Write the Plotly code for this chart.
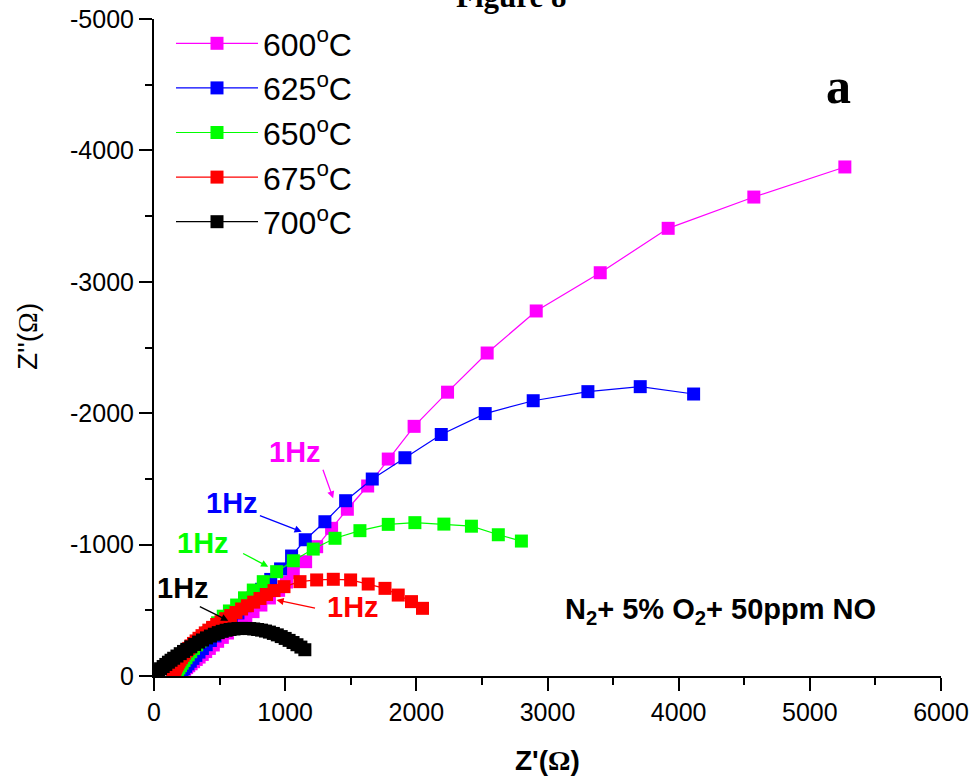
import plotly.graph_objects as go

# Impedance spectra (Nyquist) of the sensor at five temperatures.
# Z' = real part (ohm), Z'' = imaginary part (ohm, negative values).
temps = ["600<sup>o</sup>C", "625<sup>o</sup>C", "650<sup>o</sup>C", "675<sup>o</sup>C", "700<sup>o</sup>C"]
colors = ["#FF00FF", "#0000FF", "#00FF00", "#FF0000", "#000000"]

zre_600 = [185, 195, 207, 220, 234, 249, 265, 283, 302, 322, 344, 368, 394, 422, 452, 485, 521, 560,
           603, 650, 700, 755, 815, 880, 950, 1010, 1062, 1156, 1240, 1354, 1474, 1629, 1786, 1983,
           2238, 2540, 2914, 3402, 3920, 4573, 5267]
zim_600 = [-3, -14, -26, -38, -51, -64, -78, -93, -109, -126, -144, -164, -186, -210, -236, -264, -294, -327,
           -363, -402, -444, -490, -540, -594, -652, -715, -786, -870, -984, -1124, -1269, -1446, -1651, -1900,
           -2160, -2458, -2778, -3069, -3407, -3645, -3874]

zre_625 = [177, 188, 200, 213, 227, 242, 259, 277, 297, 319, 343, 369, 398, 430, 465, 503, 545, 590,
           640, 695, 755, 820, 890, 965, 1049, 1153, 1303, 1461, 1664, 1913, 2190, 2525, 2891, 3308,
           3707, 4114]
zim_625 = [-1, -12, -25, -40, -56, -73, -92, -112, -134, -157, -182, -209, -238, -270, -305, -343, -385, -430,
           -480, -535, -595, -660, -735, -815, -913, -1037, -1174, -1334, -1499, -1661, -1838, -1997, -2095, -2164,
           -2202, -2146]

zre_650 = [152, 160, 169, 179, 190, 202, 215, 229, 244, 261, 280, 301, 325, 351, 380, 412, 447, 485,
           528, 575, 630, 690, 757, 833, 935, 1062, 1214, 1380, 1570, 1786, 1989, 2210, 2420, 2625, 2801]
zim_650 = [-1, -13, -28, -44, -61, -79, -98, -118, -139, -161, -185, -210, -237, -266, -297, -330, -365, -405,
           -455, -495, -540, -595, -654, -718, -794, -877, -966, -1048, -1106, -1154, -1167, -1156, -1140, -1075, -1027]

zre_675 = [143, 147, 152, 158, 164, 171, 179, 188, 198, 209, 221, 234, 249, 265, 282, 301, 321, 343,
           366, 391, 418, 447, 478, 511, 547, 585, 625, 668, 712, 760, 808, 858, 915, 991, 1113, 1240,
           1367, 1499, 1633, 1761, 1862, 1963, 2047]
zim_675 = [-8, -20, -33, -47, -61, -76, -91, -107, -123, -140, -157, -174, -192, -210, -229, -248, -267, -287,
           -307, -328, -349, -370, -392, -413, -436, -460, -483, -510, -535, -562, -590, -620, -650, -680, -718, -731,
           -736, -731, -700, -667, -616, -566, -515]

zre_700 = [15, 35, 50, 70, 90, 110, 130, 150, 175, 200, 225, 250, 280, 310, 340, 370, 400, 430, 460, 490,
           520, 550, 580, 610, 640, 670, 700, 730, 760, 790, 820, 850, 880, 910, 940, 970, 1000, 1030, 1060,
           1090, 1120, 1150]
zim_700 = [-20, -40, -55, -72, -88, -105, -120, -135, -152, -170, -187, -203, -222, -240, -258, -274, -290, -304,
           -318, -330, -340, -348, -354, -358, -361, -362, -362, -361, -358, -354, -349, -342, -334, -324, -313,
           -300, -286, -271, -255, -238, -220, -200]

zre_series = [zre_600, zre_625, zre_650, zre_675, zre_700]
zim_series = [zim_600, zim_625, zim_650, zim_675, zim_700]

x_ticks = [0, 1000, 2000, 3000, 4000, 5000, 6000]
y_ticks = [0, -1000, -2000, -3000, -4000, -5000]
y_tick_text = ["0", "-1000", "-2000", "-3000", "-4000", "-5000"]

# 1 Hz markers: (label x, label y, arrow tail x, tail y, arrow tip x, tip y, colour)
hz_labels = [
    (1075, -1707, 1284, -1581, 1366, -1352, "#FF00FF"),
    (592, -1314, 796, -1225, 1126, -1098, "#0000FF"),
    (376, -1010, 668, -938, 871, -832, "#00FF00"),
    (223, -667, 338, -533, 566, -421, "#000000"),
    (1519, -527, 1239, -515, 934, -578, "#FF0000"),
]

SANS = "Liberation Sans, Arial, sans-serif"
SERIF = "Liberation Serif, Times New Roman, serif"

# plot box in pixels: left 154, right 941, top 19, bottom 676
L, R, T, B = 154, 941, 19, 676
W, H = R - L, B - T


def px(xp):
    return (xp - L) / W


def py(yp):
    return (B - yp) / H


fig = go.Figure()
for name, xs, ys, c in zip(temps, zre_series, zim_series, colors):
    fig.add_trace(go.Scatter(
        x=xs, y=ys, mode="lines+markers", name=name,
        line=dict(color=c, width=1.2),
        marker=dict(symbol="square", size=13, color=c, line=dict(width=0)),
    ))

axis_common = dict(showline=True, linecolor="black", linewidth=2, showgrid=False, zeroline=False,
                   mirror=False, ticks="outside", ticklen=13, tickwidth=2, tickcolor="black",
                   automargin=False,
                   tickfont=dict(family=SANS, size=25, color="black"))
frame_common = dict(ticks="inside", ticklen=4, tickwidth=1.5, tickcolor="black", showticklabels=False,
                    showline=True, linecolor="black", linewidth=2, showgrid=False, zeroline=False,
                    automargin=False)

fig.update_layout(
    width=974, height=780,
    margin=dict(l=L, r=974 - R, t=T, b=780 - B, autoexpand=False),
    plot_bgcolor="white", paper_bgcolor="white",
    showlegend=True,
    legend=dict(x=px(171), y=py(16), xanchor="left", yanchor="top", bgcolor="rgba(0,0,0,0)",
                font=dict(family=SANS, size=32, color="black"), itemwidth=82,
                tracegroupgap=0),
    xaxis=dict(range=[0, 6000], tickvals=x_ticks,
               minor=dict(ticks="outside", ticklen=7, tickwidth=2, tickcolor="black", dtick=500, tick0=0),
               **axis_common),
    yaxis=dict(range=[0, -5000], tickvals=y_ticks, ticktext=y_tick_text,
               minor=dict(ticks="outside", ticklen=7, tickwidth=2, tickcolor="black", dtick=500, tick0=0),
               **axis_common),
    xaxis2=dict(overlaying="x", side="top", range=[0, 6000], tick0=0, dtick=600, **frame_common),
    yaxis2=dict(overlaying="y", side="right", range=[0, -5000], tick0=0, dtick=500, **frame_common),
)

annotations = []
for lx, ly, tx, ty, hx, hy, c in hz_labels:
    annotations.append(dict(x=hx, y=hy, ax=tx, ay=ty, xref="x", yref="y", axref="x", ayref="y",
                            text="", showarrow=True, arrowhead=2, arrowsize=1.1, arrowwidth=1.3,
                            arrowcolor=c, standoff=0))
    annotations.append(dict(x=lx, y=ly, xref="x", yref="y", text="<b>1Hz</b>", showarrow=False,
                            xanchor="center", yanchor="middle",
                            font=dict(family=SANS, size=29, color=c)))

annotations += [
    dict(x=4322, y=-495, xref="x", yref="y", showarrow=False, xanchor="center", yanchor="middle",
         text="<b>N<sub>2</sub>+ 5% O<sub>2</sub>+ 50ppm NO</b>",
         font=dict(family=SANS, size=29, color="black")),
    dict(x=px(838), y=py(86), xref="paper", yref="paper", showarrow=False,
         xanchor="center", yanchor="middle",
         text="<b>a</b>", font=dict(family=SERIF, size=50, color="black")),
    dict(x=px(511), y=py(-4), xref="paper", yref="paper", showarrow=False,
         xanchor="center", yanchor="middle",
         text="<b>Figure 8</b>", font=dict(family=SERIF, size=31, color="black")),
    dict(x=0.5, y=py(760), xref="paper", yref="paper", showarrow=False,
         xanchor="center", yanchor="middle",
         text="<b>Z'(<span style=\"font-family:Liberation Serif\">Ω</span>)</b>",
         font=dict(family=SANS, size=28, color="black")),
    dict(x=px(27), y=py(337), xref="paper", yref="paper", showarrow=False,
         xanchor="center", yanchor="middle", textangle=-90,
         text="Z''(<span style=\"font-family:Liberation Serif\">Ω</span>)",
         font=dict(family=SANS, size=28, color="black")),
]
fig.update_layout(annotations=annotations)

fig.write_html("out.html")
